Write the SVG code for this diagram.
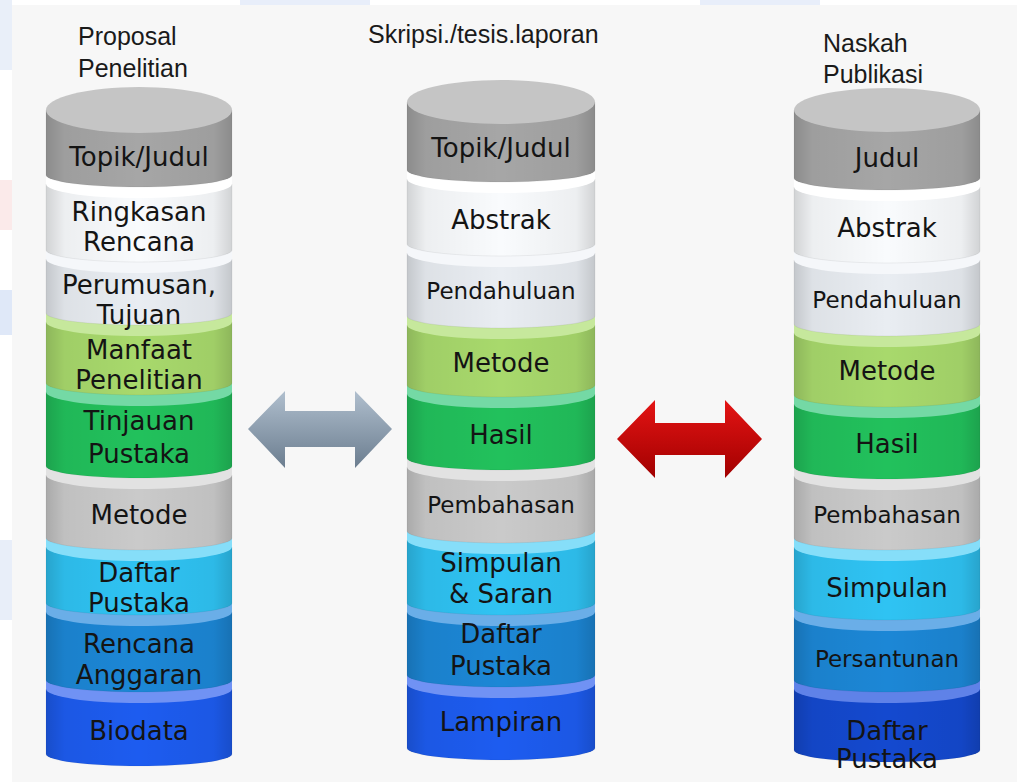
<svg xmlns="http://www.w3.org/2000/svg" width="1017" height="782" viewBox="0 0 1017 782">
<defs>
<linearGradient id="shade" x1="0" y1="0" x2="1" y2="0">
<stop offset="0" stop-color="#000" stop-opacity="0.16"/>
<stop offset="0.1" stop-color="#000" stop-opacity="0.05"/>
<stop offset="0.5" stop-color="#000" stop-opacity="0"/>
<stop offset="0.9" stop-color="#000" stop-opacity="0.05"/>
<stop offset="1" stop-color="#000" stop-opacity="0.16"/>
</linearGradient>
<linearGradient id="grayArrow" x1="0" y1="0" x2="0" y2="1">
<stop offset="0" stop-color="#b0bfce"/>
<stop offset="1" stop-color="#6b7d8f"/>
</linearGradient>
<linearGradient id="redArrow" x1="0" y1="0" x2="0" y2="1">
<stop offset="0" stop-color="#e41414"/>
<stop offset="1" stop-color="#a10000"/>
</linearGradient>
<style>
.sh{fill:url(#shade)}
.b{stroke:#000;stroke-opacity:0.06;stroke-width:1}
.lbl{font-family:"DejaVu Sans","Liberation Sans",sans-serif;font-size:26px;fill:#141414;text-anchor:middle}
.sm{font-size:23px}
.ttl{font-family:"Liberation Sans","DejaVu Sans",sans-serif;font-size:25px;fill:#1a1a1a}
.gray.b{fill:#a6a6a6}.gray.t{fill:#c5c5c5}
.white.b{fill:#f9fbfd}.white.t{fill:#ffffff}
.pale.b{fill:#e9edf2}.pale.t{fill:#f5f7fa}
.lgreen.b{fill:#a8d96c}.lgreen.t{fill:#c6e89c}
.green.b{fill:#22c15c}.green.t{fill:#74d9a5}
.gray2.b{fill:#cacaca}.gray2.t{fill:#e2e2e2}
.cyan.b{fill:#2fc3f3}.cyan.t{fill:#86def9}
.mblue.b{fill:#1c87d6}.mblue.t{fill:#6aaee8}
.blue.b{fill:#1d5cf0}.blue.t{fill:#7092f4}
.dblue.b{fill:#1449cf}.dblue.t{fill:#5f82e8}
</style>
</defs>

<rect x="0" y="0" width="1017" height="782" fill="#ffffff"/>
<rect x="12" y="5" width="1005" height="777" fill="#f7f7f7"/>
<rect x="0" y="0" width="12" height="70" fill="#e9eff9"/>
<rect x="0" y="180" width="12" height="50" fill="#fbeaea"/>
<rect x="0" y="290" width="12" height="45" fill="#dfe8f8"/>
<rect x="0" y="540" width="12" height="80" fill="#e8eef9"/>
<rect x="240" y="0" width="130" height="5" fill="#e8eefa"/>
<rect x="700" y="0" width="120" height="5" fill="#e8eefa"/>

<!-- Column titles -->
<g id="title-proposal">
<text class="ttl" x="78" y="45">Proposal</text>
<text class="ttl" x="78" y="77">Penelitian</text>
</g>
<g id="title-skripsi">
<text class="ttl" x="368" y="43">Skripsi./tesis.laporan</text>
</g>
<g id="title-naskah">
<text class="ttl" x="823" y="52">Naskah</text>
<text class="ttl" x="823" y="83">Publikasi</text>
</g>

<!-- Column 1: Proposal Penelitian -->
<g id="c1-biodata">
<path class="b blue" d="M46,689 L46,754 A93 12 0 0 0 232,754 L232,689 Z"/>
<path class="sh" d="M46,689 L46,754 A93 12 0 0 0 232,754 L232,689 Z"/>
<path class="t blue" d="M46,679 L46,689 A93 14 0 0 0 232,689 L232,679 Z"/>
<text class="lbl" x="139" y="740">Biodata</text>
</g>
<g id="c1-rencana-anggaran">
<path class="b mblue" d="M46,612 L46,680 A93 12 0 0 0 232,680 L232,612 Z"/>
<path class="sh" d="M46,612 L46,680 A93 12 0 0 0 232,680 L232,612 Z"/>
<path class="t mblue" d="M46,602 L46,612 A93 14 0 0 0 232,612 L232,602 Z"/>
<text class="lbl" x="139" y="653">Rencana</text>
<text class="lbl" x="139" y="684">Anggaran</text>
</g>
<g id="c1-daftar-pustaka">
<path class="b cyan" d="M46,547 L46,603 A93 12 0 0 0 232,603 L232,547 Z"/>
<path class="sh" d="M46,547 L46,603 A93 12 0 0 0 232,603 L232,547 Z"/>
<path class="t cyan" d="M46,537 L46,547 A93 14 0 0 0 232,547 L232,537 Z"/>
<text class="lbl" x="139" y="582">Daftar</text>
<text class="lbl" x="139" y="612">Pustaka</text>
</g>
<g id="c1-metode">
<path class="b gray2" d="M46,475 L46,538 A93 12 0 0 0 232,538 L232,475 Z"/>
<path class="sh" d="M46,475 L46,538 A93 12 0 0 0 232,538 L232,475 Z"/>
<path class="t gray2" d="M46,465 L46,475 A93 14 0 0 0 232,475 L232,465 Z"/>
<text class="lbl" x="139" y="524">Metode</text>
</g>
<g id="c1-tinjauan-pustaka">
<path class="b green" d="M46,392 L46,466 A93 12 0 0 0 232,466 L232,392 Z"/>
<path class="sh" d="M46,392 L46,466 A93 12 0 0 0 232,466 L232,392 Z"/>
<path class="t green" d="M46,382 L46,392 A93 14 0 0 0 232,392 L232,382 Z"/>
<text class="lbl" x="139" y="430">Tinjauan</text>
<text class="lbl" x="139" y="463">Pustaka</text>
</g>
<g id="c1-manfaat-penelitian">
<path class="b lgreen" d="M46,322 L46,383 A93 12 0 0 0 232,383 L232,322 Z"/>
<path class="sh" d="M46,322 L46,383 A93 12 0 0 0 232,383 L232,322 Z"/>
<path class="t lgreen" d="M46,312 L46,322 A93 14 0 0 0 232,322 L232,312 Z"/>
<text class="lbl" x="139" y="359">Manfaat</text>
<text class="lbl" x="139" y="389">Penelitian</text>
</g>
<g id="c1-perumusan-tujuan">
<path class="b pale" d="M46,259 L46,313 A93 12 0 0 0 232,313 L232,259 Z"/>
<path class="sh" d="M46,259 L46,313 A93 12 0 0 0 232,313 L232,259 Z"/>
<path class="t pale" d="M46,249 L46,259 A93 14 0 0 0 232,259 L232,249 Z"/>
<text class="lbl" x="139" y="294">Perumusan,</text>
<text class="lbl" x="139" y="324">Tujuan</text>
</g>
<g id="c1-ringkasan-rencana">
<path class="b white" d="M46,184 L46,250 A93 12 0 0 0 232,250 L232,184 Z"/>
<path class="sh" d="M46,184 L46,250 A93 12 0 0 0 232,250 L232,184 Z"/>
<path class="t white" d="M46,174 L46,184 A93 14 0 0 0 232,184 L232,174 Z"/>
<text class="lbl" x="139" y="221">Ringkasan</text>
<text class="lbl" x="139" y="251">Rencana</text>
</g>
<g id="c1-topik-judul">
<path class="b gray" d="M46,110 L46,175 A93 12 0 0 0 232,175 L232,110 Z"/>
<path class="sh" d="M46,110 L46,175 A93 12 0 0 0 232,175 L232,110 Z"/>
<ellipse class="t gray" cx="139" cy="110" rx="93" ry="23"/>
<text class="lbl" x="139" y="166">Topik/Judul</text>
</g>

<!-- Column 2: Skripsi/tesis/laporan -->
<g id="c2-lampiran">
<path class="b blue" d="M407,684 L407,748 A94 12 0 0 0 595,748 L595,684 Z"/>
<path class="sh" d="M407,684 L407,748 A94 12 0 0 0 595,748 L595,684 Z"/>
<path class="t blue" d="M407,674 L407,684 A94 14 0 0 0 595,684 L595,674 Z"/>
<text class="lbl" x="501" y="731">Lampiran</text>
</g>
<g id="c2-daftar-pustaka">
<path class="b mblue" d="M407,612 L407,675 A94 12 0 0 0 595,675 L595,612 Z"/>
<path class="sh" d="M407,612 L407,675 A94 12 0 0 0 595,675 L595,612 Z"/>
<path class="t mblue" d="M407,602 L407,612 A94 14 0 0 0 595,612 L595,602 Z"/>
<text class="lbl" x="501" y="643">Daftar</text>
<text class="lbl" x="501" y="675">Pustaka</text>
</g>
<g id="c2-simpulan-saran">
<path class="b cyan" d="M407,540 L407,603 A94 12 0 0 0 595,603 L595,540 Z"/>
<path class="sh" d="M407,540 L407,603 A94 12 0 0 0 595,603 L595,540 Z"/>
<path class="t cyan" d="M407,530 L407,540 A94 14 0 0 0 595,540 L595,530 Z"/>
<text class="lbl" x="501" y="572">Simpulan</text>
<text class="lbl" x="501" y="603">&amp; Saran</text>
</g>
<g id="c2-pembahasan">
<path class="b gray2" d="M407,467 L407,531 A94 12 0 0 0 595,531 L595,467 Z"/>
<path class="sh" d="M407,467 L407,531 A94 12 0 0 0 595,531 L595,467 Z"/>
<path class="t gray2" d="M407,457 L407,467 A94 14 0 0 0 595,467 L595,457 Z"/>
<text class="lbl sm" x="501" y="513">Pembahasan</text>
</g>
<g id="c2-hasil">
<path class="b green" d="M407,394 L407,458 A94 12 0 0 0 595,458 L595,394 Z"/>
<path class="sh" d="M407,394 L407,458 A94 12 0 0 0 595,458 L595,394 Z"/>
<path class="t green" d="M407,384 L407,394 A94 14 0 0 0 595,394 L595,384 Z"/>
<text class="lbl" x="501" y="444">Hasil</text>
</g>
<g id="c2-metode">
<path class="b lgreen" d="M407,325 L407,385 A94 12 0 0 0 595,385 L595,325 Z"/>
<path class="sh" d="M407,325 L407,385 A94 12 0 0 0 595,385 L595,325 Z"/>
<path class="t lgreen" d="M407,315 L407,325 A94 14 0 0 0 595,325 L595,315 Z"/>
<text class="lbl" x="501" y="372">Metode</text>
</g>
<g id="c2-pendahuluan">
<path class="b pale" d="M407,253 L407,316 A94 12 0 0 0 595,316 L595,253 Z"/>
<path class="sh" d="M407,253 L407,316 A94 12 0 0 0 595,316 L595,253 Z"/>
<path class="t pale" d="M407,243 L407,253 A94 14 0 0 0 595,253 L595,243 Z"/>
<text class="lbl sm" x="501" y="299">Pendahuluan</text>
</g>
<g id="c2-abstrak">
<path class="b white" d="M407,179 L407,244 A94 12 0 0 0 595,244 L595,179 Z"/>
<path class="sh" d="M407,179 L407,244 A94 12 0 0 0 595,244 L595,179 Z"/>
<path class="t white" d="M407,169 L407,179 A94 14 0 0 0 595,179 L595,169 Z"/>
<text class="lbl" x="501" y="229">Abstrak</text>
</g>
<g id="c2-topik-judul">
<path class="b gray" d="M407,102 L407,170 A94 12 0 0 0 595,170 L595,102 Z"/>
<path class="sh" d="M407,102 L407,170 A94 12 0 0 0 595,170 L595,102 Z"/>
<ellipse class="t gray" cx="501" cy="102" rx="94" ry="22"/>
<text class="lbl" x="501" y="157">Topik/Judul</text>
</g>

<!-- Column 3: Naskah Publikasi -->
<g id="c3-daftar-pustaka">
<path class="b dblue" d="M794,689 L794,750 A93 12 0 0 0 980,750 L980,689 Z"/>
<path class="sh" d="M794,689 L794,750 A93 12 0 0 0 980,750 L980,689 Z"/>
<path class="t dblue" d="M794,679 L794,689 A93 14 0 0 0 980,689 L980,679 Z"/>
<text class="lbl" x="887" y="740">Daftar</text>
<text class="lbl" x="887" y="768">Pustaka</text>
</g>
<g id="c3-persantunan">
<path class="b mblue" d="M794,617 L794,680 A93 12 0 0 0 980,680 L980,617 Z"/>
<path class="sh" d="M794,617 L794,680 A93 12 0 0 0 980,680 L980,617 Z"/>
<path class="t mblue" d="M794,607 L794,617 A93 14 0 0 0 980,617 L980,607 Z"/>
<text class="lbl sm" x="887" y="667">Persantunan</text>
</g>
<g id="c3-simpulan">
<path class="b cyan" d="M794,547 L794,608 A93 12 0 0 0 980,608 L980,547 Z"/>
<path class="sh" d="M794,547 L794,608 A93 12 0 0 0 980,608 L980,547 Z"/>
<path class="t cyan" d="M794,537 L794,547 A93 14 0 0 0 980,547 L980,537 Z"/>
<text class="lbl" x="887" y="597">Simpulan</text>
</g>
<g id="c3-pembahasan">
<path class="b gray2" d="M794,476 L794,538 A93 12 0 0 0 980,538 L980,476 Z"/>
<path class="sh" d="M794,476 L794,538 A93 12 0 0 0 980,538 L980,476 Z"/>
<path class="t gray2" d="M794,466 L794,476 A93 14 0 0 0 980,476 L980,466 Z"/>
<text class="lbl sm" x="887" y="523">Pembahasan</text>
</g>
<g id="c3-hasil">
<path class="b green" d="M794,404 L794,467 A93 12 0 0 0 980,467 L980,404 Z"/>
<path class="sh" d="M794,404 L794,467 A93 12 0 0 0 980,467 L980,404 Z"/>
<path class="t green" d="M794,394 L794,404 A93 14 0 0 0 980,404 L980,394 Z"/>
<text class="lbl" x="887" y="453">Hasil</text>
</g>
<g id="c3-metode">
<path class="b lgreen" d="M794,333 L794,395 A93 12 0 0 0 980,395 L980,333 Z"/>
<path class="sh" d="M794,333 L794,395 A93 12 0 0 0 980,395 L980,333 Z"/>
<path class="t lgreen" d="M794,323 L794,333 A93 14 0 0 0 980,333 L980,323 Z"/>
<text class="lbl" x="887" y="380">Metode</text>
</g>
<g id="c3-pendahuluan">
<path class="b pale" d="M794,260 L794,324 A93 12 0 0 0 980,324 L980,260 Z"/>
<path class="sh" d="M794,260 L794,324 A93 12 0 0 0 980,324 L980,260 Z"/>
<path class="t pale" d="M794,250 L794,260 A93 14 0 0 0 980,260 L980,250 Z"/>
<text class="lbl sm" x="887" y="308">Pendahuluan</text>
</g>
<g id="c3-abstrak">
<path class="b white" d="M794,187 L794,251 A93 12 0 0 0 980,251 L980,187 Z"/>
<path class="sh" d="M794,187 L794,251 A93 12 0 0 0 980,251 L980,187 Z"/>
<path class="t white" d="M794,177 L794,187 A93 14 0 0 0 980,187 L980,177 Z"/>
<text class="lbl" x="887" y="237">Abstrak</text>
</g>
<g id="c3-judul">
<path class="b gray" d="M794,110 L794,178 A93 12 0 0 0 980,178 L980,110 Z"/>
<path class="sh" d="M794,110 L794,178 A93 12 0 0 0 980,178 L980,110 Z"/>
<ellipse class="t gray" cx="887" cy="110" rx="93" ry="22"/>
<text class="lbl" x="887" y="167">Judul</text>
</g>

<!-- Connectors -->
<g id="connectors">
<polygon fill="url(#grayArrow)" points="248,429 285,391 285,411 355,411 355,391 392,429 355,468 355,447 285,447 285,468"/>
<polygon fill="url(#redArrow)" points="617,439 655,400 655,423 725,423 725,400 762,439 725,478 725,455 655,455 655,478"/>
</g>
</svg>
